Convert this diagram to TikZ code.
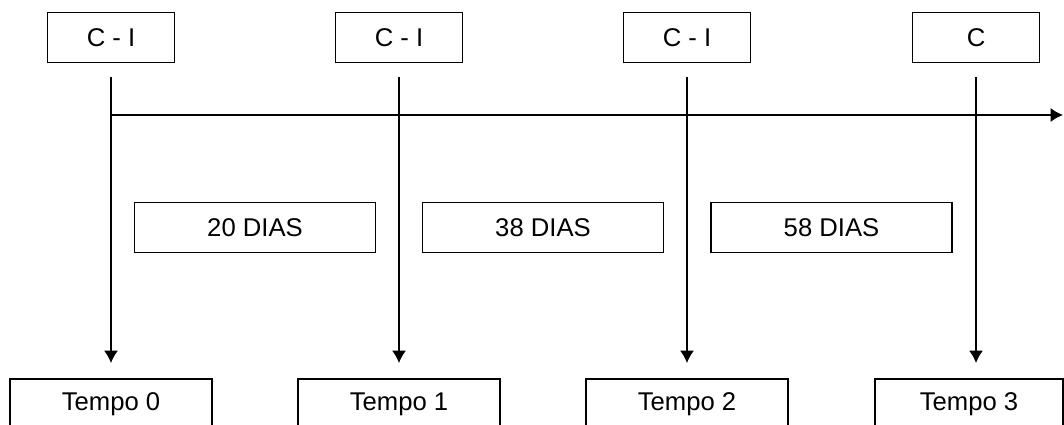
\documentclass[tikz,border=0pt]{standalone}
\usepackage{fontspec}
\setmainfont{Liberation Sans}
\usetikzlibrary{positioning,arrows.meta,calc}

\begin{document}
\begin{tikzpicture}[x=0.02cm,y=-0.02cm,line width=1.1pt,
		box/.style={draw,line width=1.1pt,inner sep=0pt,font=\fontsize{14.6}{17}\selectfont},
		topbox/.style={box,minimum width=2.54cm,minimum height=1cm},
		daybox/.style={box,minimum width=4.82cm,minimum height=1cm},
		tempobox/.style={box,minimum width=4.04cm,minimum height=1cm}]
		\def\ytop{37.5}
		\def\ystart{77}
		\def\yaxis{115}
		\def\ydays{227.5}
		\def\ytempo{404}
		\useasboundingbox (0,0) rectangle (1064,425);

		%time marks
		\foreach \x/\lab/\i in {111/C - I/0,399/C - I/1,687/C - I/2,976/C/3}{
			\node[topbox] (top\i) at (\x,\ytop) {\lab};
			\coordinate (s\i) at (\x,\ystart);
		}
		\node[tempobox] (tempo0) at (111,\ytempo) {Tempo 0};
		\node[tempobox] (tempo1) at (399,\ytempo) {Tempo 1};
		\node[tempobox] (tempo2) at (687,\ytempo) {Tempo 2};
		\node[tempobox,minimum width=3.76cm] (tempo3) at (969,\ytempo) {Tempo 3};

		\foreach \i in {0,...,3}{
			\draw[-{Latex[length=7pt,width=8pt]},shorten >=0.3cm] (s\i) -- (s\i |- tempo\i.north);
		}

		%axis
		\coordinate (axisL) at (111,\yaxis);
		\coordinate (axisR) at (1063,\yaxis);
		\draw[-{Latex[length=7pt,width=8pt]}] (axisL) -- (axisR);

		%intervals
		\node[daybox] (d1) at ($(s0)!.5!(s1)+(0,\ydays-\ystart)$) {20 DIAS};
		\node[daybox] (d2) at ($(s1)!.5!(s2)+(0,\ydays-\ystart)$) {38 DIAS};
		\node[daybox] (d3) at ($(s2)!.5!(s3)+(0,\ydays-\ystart)$) {58 DIAS};
	\end{tikzpicture}
\end{document}
